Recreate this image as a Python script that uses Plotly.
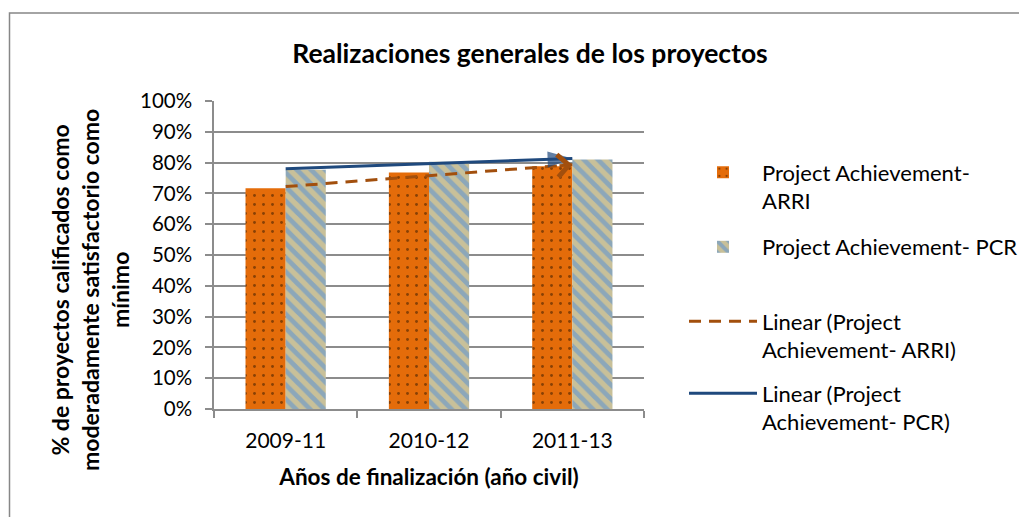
import numpy as np
import plotly.graph_objects as go

categories = ["2009-11", "2010-12", "2011-13"]
arri_values = [71.7, 76.8, 78.8]
pcr_values = [77.7, 80.3, 81.0]
y_ticks = [0, 10, 20, 30, 40, 50, 60, 70, 80, 90, 100]

title_text = "Realizaciones generales de los proyectos"
x_title = "Años de finalización (año civil)"
y_title = "% de proyectos calificados como<br>moderadamente satisfactorio como<br>mínimo"
name_arri = "Project Achievement-<br>ARRI"
name_pcr = "Project Achievement- PCR"
name_lin_arri = "Linear (Project<br>Achievement- ARRI)"
name_lin_pcr = "Linear (Project<br>Achievement- PCR)"

# page body has an 8px margin: work in page coordinates, figure is offset by OFF
OFF = 8
W, H = 1027 - OFF, 517 - OFF
PLOT_L, PLOT_R, PLOT_T, PLOT_B = 214, 644, 101, 409   # page px of plot area
L, R, T, B = PLOT_L - OFF, W - (PLOT_R - OFF), PLOT_T - OFF, H - (PLOT_B - OFF)
FONT = "Lato"

def px_x(p):
    return (p - PLOT_L) / (PLOT_R - PLOT_L)

def px_y(p):
    return (PLOT_B - p) / (PLOT_B - PLOT_T)

idx = np.arange(len(categories))
arri_coef = np.polyfit(idx, arri_values, 1)
pcr_coef = np.polyfit(idx, pcr_values, 1)
arri_fit = np.polyval(arri_coef, idx)
pcr_fit = np.polyval(pcr_coef, idx)

ORANGE = "#E46C0A"
TAN = "#C8C099"
BLUE_STRIPE = "#4F8DDA"
BROWN = "#A24F0D"
NAVY = "#1F497D"
GRID = "#8C8C8C"

fig = go.Figure()
fig.add_trace(go.Bar(
    x=categories, y=arri_values, name=name_arri, legend="legend",
    marker=dict(color=ORANGE, line=dict(width=0),
                pattern=dict(shape=".", fgcolor="#2B1400", bgcolor=ORANGE,
                             size=9, solidity=0.08, fillmode="overlay")),
))
fig.add_trace(go.Bar(
    x=categories, y=pcr_values, name=name_pcr, legend="legend2",
    marker=dict(color=TAN, line=dict(width=0),
                pattern=dict(shape="\\", fgcolor=BLUE_STRIPE, bgcolor=TAN,
                             size=10, solidity=0.48, fillmode="overlay")),
))
fig.add_trace(go.Scatter(
    x=categories, y=arri_fit, mode="lines", name=name_lin_arri, legend="legend3",
    line=dict(color=BROWN, width=3, dash="12px,8px"),
))
fig.add_trace(go.Scatter(
    x=categories, y=pcr_fit, mode="lines", name=name_lin_pcr, legend="legend4",
    line=dict(color=NAVY, width=3),
))
# arrowhead for PCR trend
fig.add_trace(go.Scatter(
    x=categories[1:], y=pcr_fit[1:], mode="markers", showlegend=False, hoverinfo="skip",
    marker=dict(symbol="arrow", size=[0, 26], angleref="previous", color=NAVY,
                line=dict(width=0)),
))

# chevron arrowhead for ARRI trend (annotation arrow in data coords)
end_i = len(categories) - 1
back = end_i - 0.1
back_y = float(np.polyval(arri_coef, back))
annotations = [
    dict(x=end_i, y=float(arri_fit[-1]), ax=back, ay=back_y, xref="x", yref="y",
         axref="x", ayref="y", text="", showarrow=True, arrowhead=4,
         arrowsize=1.45, arrowwidth=3, arrowcolor=BROWN, standoff=0),
    dict(x=px_x(90), y=px_y(290), xref="paper", yref="paper", text=y_title,
         textangle=-90, showarrow=False, xanchor="center", yanchor="middle",
         font=dict(family=FONT, size=23, color="black", weight="bold")),
]

shapes = [
    dict(type="rect", xref="paper", yref="paper",
         x0=px_x(9.5), x1=px_x(1200), y0=px_y(13), y1=px_y(700),
         line=dict(color="#878787", width=1.5), fillcolor="rgba(0,0,0,0)", layer="below"),
]

leg_common = dict(xanchor="left", yanchor="middle", bgcolor="rgba(0,0,0,0)",
                  font=dict(family=FONT, size=22, color="black"), valign="top",
                  itemwidth=68)
LEG_X = px_x(684)

fig.update_layout(
    width=W, height=H,
    margin=dict(l=L, r=R, t=T, b=B, autoexpand=False),
    paper_bgcolor="white", plot_bgcolor="white",
    barmode="group", bargap=0.44, bargroupgap=0,
    title=dict(text=f"<b>{title_text}</b>", xref="container", yref="container",
               x=(530 - OFF) / W, y=1 - (54 - OFF) / H, xanchor="center", yanchor="middle",
               font=dict(family=FONT, size=26.5, color="black")),
    font=dict(family=FONT, color="black"),
    legend=dict(x=LEG_X, y=px_y(187), **leg_common),
    legend2=dict(x=LEG_X, y=px_y(247), **leg_common),
    legend3=dict(x=LEG_X, y=px_y(336), **leg_common),
    legend4=dict(x=LEG_X, y=px_y(408), **leg_common),
    annotations=annotations,
    shapes=shapes,
    xaxis=dict(
        type="category", tickson="boundaries", ticks="outside", ticklen=7,
        tickcolor=GRID, tickwidth=1.5, showline=True, linecolor=GRID, linewidth=1.5,
        showgrid=False, ticklabelstandoff=12,
        tickfont=dict(family=FONT, size=21, color="black"),
        title=dict(text=f"<b>{x_title}</b>", standoff=18,
                   font=dict(family=FONT, size=22.5, color="black")),
    ),
    yaxis=dict(
        range=[0, 100], tickvals=y_ticks, ticktext=[f"{v}%" for v in y_ticks],
        ticks="outside", ticklen=7, tickcolor=GRID, tickwidth=1.5,
        showline=True, linecolor=GRID, linewidth=1.5, ticklabelstandoff=9,
        showgrid=True, gridcolor=GRID, gridwidth=1.6, zeroline=False,
        tickfont=dict(family=FONT, size=20.5, color="black"),
    ),
)

fig.write_html("out.html")
